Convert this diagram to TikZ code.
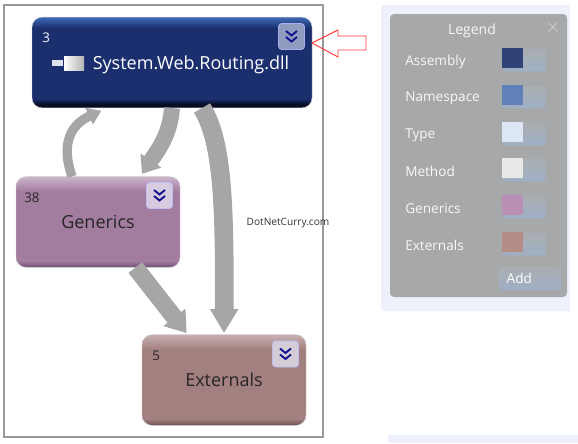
\documentclass[tikz,border=0pt]{standalone}
\usepackage{fontspec}
\setmainfont{Open Sans}
\usetikzlibrary{arrows.meta, positioning}

\definecolor{flowgray}{HTML}{A6A6A6}
\definecolor{panelgray}{HTML}{A6A8AA}
\definecolor{panelback}{HTML}{EEF1FB}
\definecolor{framegray}{HTML}{999999}
\definecolor{chevronblue}{HTML}{10108C}
\definecolor{swatchasm}{HTML}{2F4379}
\definecolor{swatchns}{HTML}{6080B8}
\definecolor{swatchtype}{HTML}{DDE6F5}
\definecolor{swatchmethod}{HTML}{E8E8E8}
\definecolor{swatchgen}{HTML}{B98FB5}
\definecolor{swatchext}{HTML}{B58D88}
\definecolor{asmbutton}{HTML}{8E9CC0}
\definecolor{genbutton}{HTML}{D6CBE0}
\definecolor{extbutton}{HTML}{D4CDD8}
\definecolor{asmtop}{HTML}{3F6BB8}
\definecolor{asmbody}{HTML}{1B2F6E}
\definecolor{asmfoot}{HTML}{070B24}
\definecolor{gentop}{HTML}{CBB4CB}
\definecolor{genbody}{HTML}{A37DA0}
\definecolor{genfoot}{HTML}{6E4F74}
\definecolor{exttop}{HTML}{C9B2B2}
\definecolor{extbody}{HTML}{A38080}
\definecolor{extfoot}{HTML}{6E5050}
\definecolor{toggletop}{HTML}{ABAEB1}
\definecolor{togglefoot}{HTML}{9FB0C6}

% only the middle part of a shading (25bp to 75bp) is seen on a node
\pgfdeclareverticalshading{asmshade}{100bp}{
  color(0bp)=(asmfoot); color(27bp)=(asmfoot); color(30bp)=(asmbody);
  color(69bp)=(asmbody); color(75bp)=(asmtop); color(100bp)=(asmtop)}
\pgfdeclareverticalshading{genshade}{100bp}{
  color(0bp)=(genfoot); color(25bp)=(genfoot); color(28.5bp)=(genbody);
  color(67bp)=(genbody); color(75bp)=(gentop); color(100bp)=(gentop)}
\pgfdeclareverticalshading{extshade}{100bp}{
  color(0bp)=(extfoot); color(25bp)=(extfoot); color(28.5bp)=(extbody);
  color(67bp)=(extbody); color(75bp)=(exttop); color(100bp)=(exttop)}

\tikzset{
  boxnode/.style={rounded corners=7.5pt, inner sep=0pt, minimum height=68pt, draw=black!20, line width=0.3pt,
    font=\fontsize{13.5}{15}\selectfont},
  countnode/.style={inner sep=0pt, font=\fontsize{10}{12}\selectfont},
  expandnode/.style={rounded corners=2.5pt, minimum size=19.5pt, inner sep=0pt, fill=#1, draw=#1!60!blue!50!white, line width=0.7pt},
  chevrons/.pic={
    \draw[chevronblue, line width=1.4pt] (-5.5,-5.5) -- (0,-1) -- (5.5,-5.5);
    \draw[chevronblue, line width=1.4pt] (-5.5,0.5) -- (0,5) -- (5.5,0.5);
  },
  flow/.style={flowgray, line width=#1},
  legendtext/.style={anchor=west, inner sep=0pt, text=white!92!panelgray, font=\fontsize{10.2}{12}\selectfont},
  togglenode/.style={rounded corners=3pt, minimum width=33pt, minimum height=17pt, inner sep=0pt,
    top color=toggletop, bottom color=togglefoot},
  swatchnode/.style={minimum width=15.7pt, minimum height=15.5pt, inner sep=0pt, fill=#1}
}

\begin{document}
\begin{tikzpicture}[x=0.75pt, y=-0.75pt]
  \useasboundingbox (0,0) rectangle (578,443);
  \fill[white] (0,0) rectangle (578,443);
  % frame round the graph
  \draw[framegray, line width=0.8pt] (4,5) rectangle (323,437);

  % graph boxes
  \node[boxnode, shading=asmshade, minimum width=210pt] (asm) at (172,62.5) {};
  \node[boxnode, shading=genshade, minimum width=123pt, text=black!85] (gen) at (98,222) {Generics};
  \node[boxnode, shading=extshade, minimum width=123pt, text=black!85] (ext) at (224,380) {Externals};

  % arrows between the boxes
  \draw[flow=7pt, -{Triangle[length=10pt, width=13pt]}] ([xshift=-19.5pt]gen.north)
    .. controls (60,142) and (72,124) .. ([xshift=-53pt, yshift=-2pt]asm.south);
  \draw[flow=12pt, -{Triangle[length=12pt, width=18pt]}] (asm.south)
    .. controls (170,135) and (158,150) .. ([xshift=33pt, yshift=2pt]gen.north);
  \draw[flow=14pt, -{Triangle[length=18pt, width=20pt]}] ([xshift=22.5pt]asm.south)
    .. controls (222,140) and (225,200) .. ([yshift=1pt]ext.north);
  \draw[flow=13pt, -{Triangle[length=15pt, width=20pt]}] ([xshift=28pt]gen.south)
    -- ([xshift=-28pt, yshift=1pt]ext.north);

  % box texts
  \node[countnode, text=white, anchor=west] (asmcount) at (42,38) {3};
  \node[countnode, text=black!85, anchor=west] (gencount) at (24,198) {38};
  \node[countnode, text=black!85, anchor=west] (extcount) at (152,356) {5};
  \node[inner sep=0pt, text=white, font=\fontsize{13.5}{15}\selectfont] (asmtitle) at (191,64.5) {System.Web.Routing.dll};

  % small assembly icon
  \fill[white!70!asmbutton] (52,60) rectangle (63,66);
  \shade[left color=white, right color=white!70!black] (64,56) rectangle (84,70);

  % expander buttons
  \node[expandnode=asmbutton] (asmbtn) at (291.5,36.5) {};
  \node[expandnode=genbutton] (genbtn) at (159.5,195.5) {};
  \node[expandnode=extbutton] (extbtn) at (285.5,354) {};
  \pic at (asmbtn) {chevrons};
  \pic at (genbtn) {chevrons};
  \pic at (extbtn) {chevrons};

  % red pointer
  \draw[red!70!pink, line width=0.7pt, line join=miter] (312,43) -- (338,30) -- (338,36) -- (366,36)
    -- (366,50) -- (338,50) -- (338,57) -- cycle;

  \node[inner sep=0pt, font=\fontsize{7.6}{9}\selectfont, text=black!80] (mark) at (288,223) {DotNetCurry.com};

  % legend panel
  \fill[panelback] (381,5) rectangle (570,311);
  \fill[panelback] (388,435) rectangle (578,443);
  \fill[panelgray, rounded corners=3pt] (390,14) rectangle (567,297);
  \node[inner sep=0pt, text=white!92!panelgray, font=\fontsize{10.5}{12}\selectfont] (legendtitle) at (472,31) {Legend};
  \node[inner sep=0pt, text=white!55!panelgray, font=\fontsize{14}{14}\selectfont] (legendclose) at (553,28) {$\times$};
  \foreach \rowname/\swatchcol/\rowy in {Assembly/swatchasm/60, Namespace/swatchns/97, Type/swatchtype/134,
      Method/swatchmethod/170, Generics/swatchgen/207, Externals/swatchext/244} {
    \node[legendtext] (label\rowname) at (405,\rowy+1.5) {\rowname};
    \node[togglenode] (toggle\rowname) at (524,\rowy) {};
    \node[swatchnode=\swatchcol] (swatch\rowname) at (512.5,\rowy-2) {};
  }
  \node[togglenode, minimum width=47pt, font=\fontsize{10.2}{12}\selectfont, text=white] (addbtn) at (530,278.5) {\hspace*{-16pt}Add};
\end{tikzpicture}
\end{document}
